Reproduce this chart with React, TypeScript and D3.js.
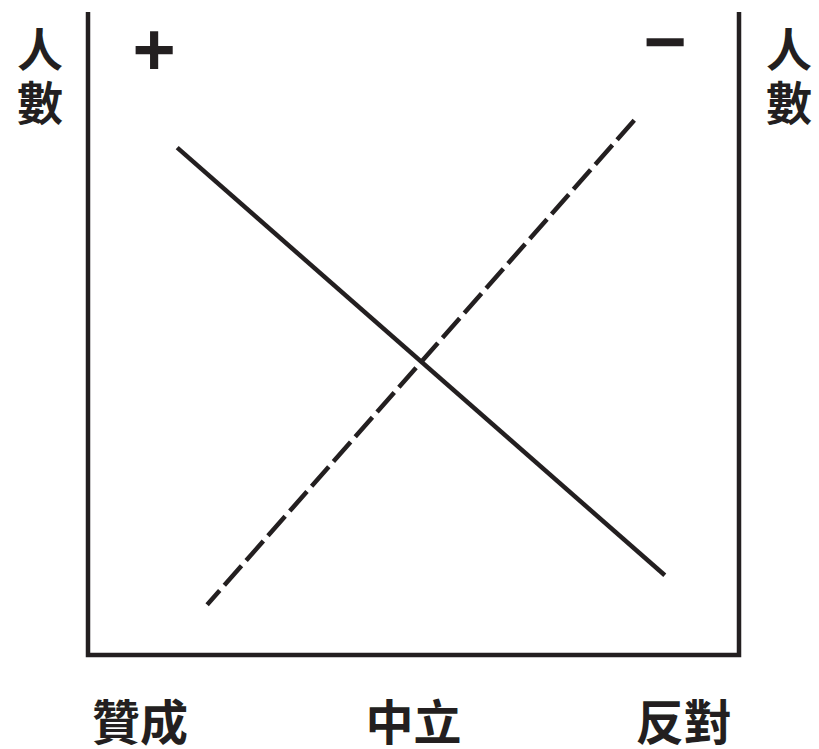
import React from "react";
import * as d3 from "d3";

const categories = ["贊成", "中立", "反對"];
const categoryPos = [0.08, 0.5, 0.915];
const yAxisLabel = "人數";
const signs = ["+", "−"];
const supportLine = [
  { x: 0.137, y: 0.789 },
  { x: 0.886, y: 0.124 },
];
const opposeLine = [
  { x: 0.183, y: 0.078 },
  { x: 0.842, y: 0.835 },
];

const W = 819;
const H = 749;
const left = 88;
const right = 739;
const top = 12;
const bottom = 655;

export default function App() {
  const x = d3.scaleLinear().domain([0, 1]).range([left, right]);
  const y = d3.scaleLinear().domain([0, 1]).range([bottom, top]);
  const line = d3
    .line<{ x: number; y: number }>()
    .x((d) => x(d.x))
    .y((d) => y(d.y));
  const font = "'Noto Sans CJK TC', 'Noto Sans CJK SC', sans-serif";
  const signFont = "'Liberation Sans', Arial, sans-serif";
  const ink = "#231f20";
  return (
    <svg
      width={W}
      height={H}
      style={{ position: "absolute", left: 0, top: 0, background: "#fff" }}
    >
      <path
        d={`M${left},${top}V${bottom}H${right}V${top}`}
        fill="none"
        stroke={ink}
        strokeWidth={4.5}
      />
      <path d={line(supportLine) || ""} fill="none" stroke={ink} strokeWidth={4.5} />
      <path
        d={line(opposeLine) || ""}
        fill="none"
        stroke={ink}
        strokeWidth={4.5}
        strokeDasharray="26,7"
        strokeDashoffset={7}
      />
      {[40, 789].map((cx) => (
        <text
          key={cx}
          x={cx}
          y={26}
          writingMode="vertical-rl"
          letterSpacing={8}
          fontFamily={font}
          fontWeight="bold"
          fontSize={46}
          fill={ink}
          style={{ writingMode: "vertical-rl" } as React.CSSProperties}
        >
          {yAxisLabel}
        </text>
      ))}
      <text x={154} y={75} textAnchor="middle" fontFamily={signFont} fontWeight="bold" fontSize={74} fill={ink}>
        {signs[0]}
      </text>
      <text x={665} y={67} textAnchor="middle" fontFamily={signFont} fontWeight="bold" fontSize={74} fill={ink}>
        {signs[1]}
      </text>
      {categories.map((c, i) => (
        <text
          key={c}
          x={x(categoryPos[i])}
          y={740}
          textAnchor="middle"
          fontFamily={font}
          fontWeight="bold"
          fontSize={48}
          fill={ink}
        >
          {c}
        </text>
      ))}
    </svg>
  );
}
